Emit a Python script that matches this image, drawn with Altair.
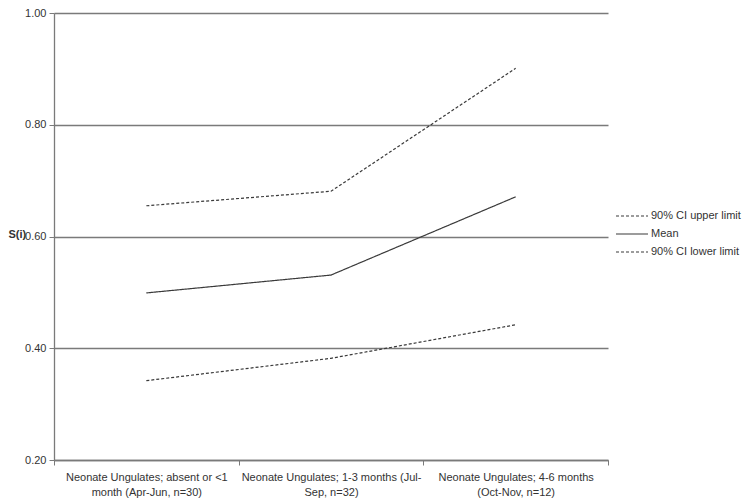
import altair as alt
import pandas as pd

categories = [
    "Neonate Ungulates; absent or <1|month (Apr-Jun, n=30)",
    "Neonate Ungulates; 1-3 months (Jul-|Sep, n=32)",
    "Neonate Ungulates; 4-6 months|(Oct-Nov, n=12)",
]
series = ["90% CI upper limit", "Mean", "90% CI lower limit"]
upper = [0.655, 0.681, 0.901]
mean = [0.499, 0.531, 0.671]
lower = [0.342, 0.382, 0.442]
y_ticks = [0.2, 0.4, 0.6, 0.8, 1.0]

rows = []
for name, vals in zip(series, [upper, mean, lower]):
    for c, v in zip(categories, vals):
        rows.append({"cat": c, "series": name, "value": v})
df = pd.DataFrame(rows)

LINE = "#3a3a3a"
GRID = "#7a7a7a"
FONT = "Liberation Sans"

chart = alt.Chart(df).mark_line(color=LINE, strokeWidth=1.2).encode(
    x=alt.X(
        "cat:N",
        sort=categories,
        bandPosition=0.5,
        scale=alt.Scale(type="band", paddingInner=0, paddingOuter=0),
        axis=alt.Axis(
            title=None,
            labelAngle=0,
            labelExpr="split(datum.label, '|')",
            labelLineHeight=15,
            labelPadding=6,
            labelLimit=400,
            tickBand="extent",
            tickSize=5,
            tickColor=GRID,
            domainColor=GRID,
            domainWidth=1.3,
            labelFont=FONT,
            labelFontSize=11,
            labelColor="#333333",
            grid=False,
        ),
    ),
    y=alt.Y(
        "value:Q",
        scale=alt.Scale(domain=[0.2, 1.0], nice=False, zero=False),
        axis=alt.Axis(
            title="S(i)",
            titleAngle=0,
            titleFont=FONT,
            titleFontSize=11,
            titleFontWeight="bold",
            titleColor="#333333",
            titleAlign="left",
            titleBaseline="middle",
            titleX=-46,
            titleY=221,
            values=y_ticks,
            format=".2f",
            grid=True,
            gridColor=GRID,
            gridWidth=1.3,
            gridOpacity=1,
            domainColor=GRID,
            domainWidth=1.3,
            tickColor=GRID,
            tickSize=5,
            labelPadding=3,
            labelFont=FONT,
            labelFontSize=11,
            labelColor="#333333",
        ),
    ),
    strokeDash=alt.StrokeDash(
        "series:N",
        sort=series,
        scale=alt.Scale(domain=series, range=[[3, 2], [1, 0], [3, 2]]),
        legend=alt.Legend(
            title=None,
            orient="none",
            legendX=569,
            legendY=194,
            symbolType="M-2,0H2",
            symbolSize=256,
            symbolStrokeColor=LINE,
            symbolStrokeWidth=1.2,
            labelFont=FONT,
            labelFontSize=11,
            labelColor="#333333",
            rowPadding=4,
            labelOffset=10,
        ),
    ),
).properties(
    width=554,
    height=447,
    autosize=alt.AutoSizeParams(type="none"),
    padding={"left": 46, "top": 5, "right": 136, "bottom": 38},
).configure_view(stroke=None)

chart.save("out.html", embed_options={"renderer": "svg", "actions": False})
